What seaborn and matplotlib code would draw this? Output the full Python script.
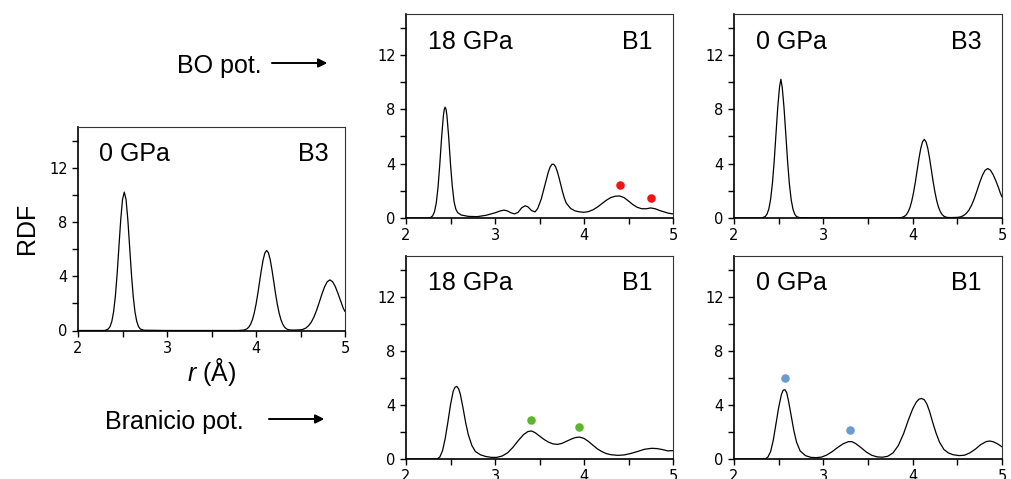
import numpy as np
import pandas as pd
import seaborn as sns
import matplotlib.pyplot as plt
from matplotlib.ticker import MultipleLocator

# RDF curves (r in Angstrom, g(r))
r_b3_ref = [2.0, 2.30, 2.34, 2.36, 2.38, 2.40, 2.42, 2.44, 2.46, 2.48, 2.50, 2.52, 2.54, 2.56,
            2.58, 2.60, 2.62, 2.64, 2.66, 2.68, 2.70, 2.74, 3.0, 3.5, 3.80, 3.86, 3.88, 3.90,
            3.92, 3.94, 3.96, 3.98, 4.00, 4.02, 4.04, 4.06, 4.08, 4.10, 4.12, 4.14, 4.16, 4.18,
            4.20, 4.22, 4.24, 4.26, 4.28, 4.30, 4.32, 4.34, 4.36, 4.38, 4.42, 4.46, 4.50, 4.53,
            4.56, 4.59, 4.62, 4.65, 4.68, 4.71, 4.74, 4.77, 4.80, 4.83, 4.86, 4.89, 4.92, 4.95,
            4.98, 5.00]
g_b3_ref = [0.0, 0.0, 0.11, 0.29, 0.67, 1.38, 2.54, 4.19, 6.19, 8.16, 9.65, 10.2, 9.65, 8.16,
            6.19, 4.19, 2.54, 1.38, 0.67, 0.29, 0.11, 0.02, 0.0, 0.0, 0.0, 0.03, 0.07, 0.13,
            0.26, 0.47, 0.80, 1.28, 1.92, 2.70, 3.58, 4.45, 5.21, 5.72, 5.9, 5.72, 5.21, 4.45,
            3.58, 2.70, 1.92, 1.28, 0.80, 0.47, 0.26, 0.13, 0.07, 0.04, 0.03, 0.04, 0.05, 0.09,
            0.18, 0.35, 0.60, 0.98, 1.47, 2.06, 2.67, 3.21, 3.59, 3.73, 3.6, 3.25, 2.75, 2.2,
            1.65, 1.4]

r_b3_bo = [2.0, 2.31, 2.35, 2.37, 2.39, 2.41, 2.43, 2.45, 2.47, 2.49, 2.51, 2.525, 2.54, 2.56,
           2.58, 2.60, 2.62, 2.64, 2.66, 2.68, 2.70, 2.74, 3.0, 3.5, 3.81, 3.87, 3.89, 3.91,
           3.93, 3.95, 3.97, 3.99, 4.01, 4.03, 4.05, 4.07, 4.09, 4.11, 4.13, 4.15, 4.17, 4.19,
           4.21, 4.23, 4.25, 4.27, 4.29, 4.31, 4.33, 4.35, 4.37, 4.39, 4.43, 4.47, 4.51, 4.54,
           4.57, 4.60, 4.63, 4.66, 4.69, 4.72, 4.75, 4.78, 4.81, 4.84, 4.87, 4.90, 4.93, 4.96,
           4.98, 5.00]
g_b3_bo = [0.0, 0.0, 0.11, 0.29, 0.67, 1.38, 2.54, 4.19, 6.19, 8.16, 9.65, 10.2, 9.6, 8.1,
           6.15, 4.15, 2.5, 1.35, 0.65, 0.28, 0.1, 0.02, 0.0, 0.0, 0.0, 0.03, 0.07, 0.13,
           0.25, 0.46, 0.78, 1.25, 1.88, 2.64, 3.5, 4.36, 5.1, 5.6, 5.78, 5.6, 5.1, 4.36,
           3.5, 2.64, 1.88, 1.25, 0.78, 0.46, 0.25, 0.13, 0.07, 0.04, 0.03, 0.04, 0.05, 0.09,
           0.18, 0.34, 0.58, 0.95, 1.43, 2.0, 2.6, 3.13, 3.5, 3.64, 3.52, 3.2, 2.75, 2.25,
           1.85, 1.55]

r_b1_18_bo = [2.0, 2.27, 2.30, 2.32, 2.34, 2.36, 2.38, 2.40, 2.42, 2.43, 2.44, 2.45, 2.46, 2.48,
              2.50, 2.52, 2.54, 2.56, 2.58, 2.62, 2.70, 2.80, 2.90, 3.00, 3.06, 3.10, 3.14, 3.18,
              3.22, 3.26, 3.30, 3.34, 3.37, 3.41, 3.45, 3.48, 3.52, 3.56, 3.58, 3.60, 3.62, 3.64,
              3.66, 3.68, 3.70, 3.72, 3.74, 3.76, 3.78, 3.80, 3.85, 3.90, 3.95, 4.00, 4.05, 4.10,
              4.15, 4.20, 4.25, 4.30, 4.35, 4.40, 4.45, 4.50, 4.55, 4.60, 4.65, 4.70, 4.75, 4.80,
              4.85, 4.90, 4.95, 5.00]
g_b1_18_bo = [0.0, 0.0, 0.16, 0.46, 1.1, 2.27, 3.97, 5.92, 7.52, 7.99, 8.15, 7.99, 7.52, 5.92,
              3.97, 2.35, 1.2, 0.65, 0.4, 0.22, 0.12, 0.1, 0.2, 0.38, 0.52, 0.58, 0.52, 0.38,
              0.30, 0.42, 0.75, 0.9, 0.82, 0.55, 0.45, 0.7, 1.4, 2.4, 2.9, 3.4, 3.76, 3.95,
              3.95, 3.78, 3.42, 2.95, 2.42, 1.9, 1.45, 1.1, 0.7, 0.52, 0.45, 0.42, 0.47, 0.6,
              0.8, 1.05, 1.3, 1.5, 1.6, 1.62, 1.5, 1.25, 0.98, 0.78, 0.68, 0.68, 0.74, 0.68,
              0.55, 0.45, 0.35, 0.3]

r_b1_18_br = [2.0, 2.35, 2.38, 2.41, 2.44, 2.47, 2.50, 2.53, 2.55, 2.57, 2.59, 2.61, 2.64, 2.67,
              2.70, 2.74, 2.78, 2.84, 2.90, 2.96, 3.02, 3.08, 3.14, 3.20, 3.26, 3.32, 3.37, 3.41,
              3.45, 3.50, 3.55, 3.60, 3.65, 3.70, 3.75, 3.80, 3.85, 3.90, 3.95, 4.00, 4.05, 4.10,
              4.15, 4.20, 4.25, 4.30, 4.38, 4.45, 4.52, 4.60, 4.68, 4.76, 4.82, 4.88, 4.94, 5.00]
g_b1_18_br = [0.0, 0.0, 0.15, 0.6, 1.5, 2.7, 4.0, 5.0, 5.3, 5.36, 5.2, 4.8, 3.8, 2.7,
              1.8, 1.0, 0.55, 0.3, 0.18, 0.12, 0.12, 0.22, 0.45, 0.85, 1.35, 1.8, 2.03, 2.07,
              1.95, 1.7, 1.45, 1.25, 1.12, 1.08, 1.15, 1.3, 1.45, 1.58, 1.62, 1.52, 1.3, 1.02,
              0.75, 0.55, 0.4, 0.32, 0.27, 0.3, 0.4, 0.55, 0.72, 0.79, 0.77, 0.7, 0.6, 0.62]

r_b1_0_br = [2.0, 2.35, 2.38, 2.41, 2.44, 2.47, 2.50, 2.53, 2.55, 2.57, 2.59, 2.61, 2.64, 2.67,
             2.70, 2.74, 2.80, 2.86, 2.92, 2.98, 3.04, 3.10, 3.16, 3.22, 3.28, 3.32, 3.36, 3.42,
             3.48, 3.54, 3.60, 3.66, 3.72, 3.78, 3.84, 3.90, 3.95, 4.00, 4.04, 4.07, 4.10, 4.13,
             4.16, 4.19, 4.22, 4.26, 4.30, 4.35, 4.40, 4.45, 4.52, 4.58, 4.64, 4.70, 4.76, 4.82,
             4.86, 4.90, 4.95, 5.00]
g_b1_0_br = [0.0, 0.0, 0.15, 0.55, 1.4, 2.6, 3.8, 4.75, 5.08, 5.12, 4.9, 4.3, 3.2, 2.1,
             1.25, 0.6, 0.25, 0.12, 0.1, 0.14, 0.3, 0.55, 0.85, 1.12, 1.28, 1.28, 1.15, 0.85,
             0.52, 0.28, 0.16, 0.13, 0.2, 0.45, 1.0, 1.9, 2.85, 3.7, 4.2, 4.42, 4.47, 4.38,
             4.05, 3.5, 2.8, 1.95, 1.25, 0.7, 0.45, 0.32, 0.25, 0.28, 0.45, 0.72, 1.05, 1.28,
             1.33, 1.28, 1.12, 0.9]

# marker points
dots_red_r = [4.40, 4.757]
dots_red_g = [2.46, 1.45]
dots_green_r = [3.41, 3.945]
dots_green_g = [2.88, 2.39]
dots_blue_r = [2.57, 3.30]
dots_blue_g = [5.98, 2.14]

sns.set_style("ticks")
plt.rcParams['font.family'] = ['Liberation Sans', 'DejaVu Sans']
plt.rcParams['mathtext.fontset'] = 'custom'
plt.rcParams['mathtext.it'] = 'Liberation Sans:italic'
plt.rcParams['mathtext.rm'] = 'Liberation Sans'
plt.rcParams['text.color'] = 'black'
plt.rcParams['axes.labelcolor'] = 'black'

fig = plt.figure(figsize=(10.11, 4.79), dpi=100)
W, H = 1011, 479


def make_axes(left, top, right, bottom):
    return fig.add_axes([left / W, 1 - bottom / H, (right - left) / W, (bottom - top) / H])


def draw_panel(ax, r, g, pressure, phase, lpos=0.082, rpos=0.925, dots=None, color=None):
    df = pd.DataFrame({'r': r, 'g': g})
    sns.lineplot(data=df, x='r', y='g', ax=ax, color='black', linewidth=0.9, errorbar=None)
    if dots is not None:
        dd = pd.DataFrame({'r': dots[0], 'g': dots[1]})
        sns.scatterplot(data=dd, x='r', y='g', ax=ax, color=color, s=38, linewidth=0, zorder=5)
    ax.set_xlim(2, 5)
    ax.set_ylim(0, 15)
    ax.xaxis.set_major_locator(MultipleLocator(1))
    ax.xaxis.set_minor_locator(MultipleLocator(0.5))
    ax.set_yticks([0, 4, 8, 12])
    ax.yaxis.set_minor_locator(MultipleLocator(2))
    ax.set_xlabel('')
    ax.set_ylabel('')
    ax.tick_params(which='both', direction='out', length=4.5, width=1, pad=3,
                   labelsize=10.5, colors='black')
    for lab in ax.get_xticklabels() + ax.get_yticklabels():
        lab.set_fontfamily('DejaVu Sans')
    for s in ['left', 'bottom']:
        ax.spines[s].set_linewidth(1.2)
        ax.spines[s].set_color('black')
    for s in ['top', 'right']:
        ax.spines[s].set_visible(True)
        ax.spines[s].set_linewidth(0.8)
        ax.spines[s].set_color('#333333')
    ax.text(lpos, 0.865, pressure, transform=ax.transAxes, fontsize=18, ha='left', va='center')
    ax.text(rpos, 0.865, phase, transform=ax.transAxes, fontsize=18, ha='right', va='center')


ax0 = make_axes(78, 127, 345, 330.5)
draw_panel(ax0, r_b3_ref, g_b3_ref, '0 GPa', 'B3', lpos=0.077, rpos=0.94)
ax0.set_xlabel(r'$\it{r}$ (Å)', fontsize=18, labelpad=0)
fig.text(27 / W, 1 - 228 / H, 'RDF', rotation=90, fontsize=18, ha='center', va='center')

ax1 = make_axes(406, 14, 673, 218)
draw_panel(ax1, r_b1_18_bo, g_b1_18_bo, '18 GPa', 'B1',
           dots=(dots_red_r, dots_red_g), color='#f01414')

ax2 = make_axes(734, 14, 1002, 218)
draw_panel(ax2, r_b3_bo, g_b3_bo, '0 GPa', 'B3')

ax3 = make_axes(406, 256, 673, 459)
draw_panel(ax3, r_b1_18_br, g_b1_18_br, '18 GPa', 'B1',
           dots=(dots_green_r, dots_green_g), color='#5cb82a')

ax4 = make_axes(734, 256, 1002, 459)
draw_panel(ax4, r_b1_0_br, g_b1_0_br, '0 GPa', 'B1',
           dots=(dots_blue_r, dots_blue_g), color='#6a9bd1')

# potential labels with arrows
fig.text(262 / W, 1 - 73 / H, 'BO pot.', fontsize=18, ha='right', va='baseline')
fig.text(244 / W, 1 - 429 / H, 'Branicio pot.', fontsize=18, ha='right', va='baseline')
arrow = dict(arrowstyle='-|>', color='black', lw=1.2, mutation_scale=13, shrinkA=0, shrinkB=0)
fig.add_artist(plt.annotate('', xy=(327 / W, 1 - 63 / H), xytext=(272 / W, 1 - 63 / H),
                            xycoords='figure fraction', textcoords='figure fraction',
                            arrowprops=arrow))
fig.add_artist(plt.annotate('', xy=(324 / W, 1 - 419 / H), xytext=(269 / W, 1 - 419 / H),
                            xycoords='figure fraction', textcoords='figure fraction',
                            arrowprops=arrow))

fig.savefig('out.png', dpi=100)
